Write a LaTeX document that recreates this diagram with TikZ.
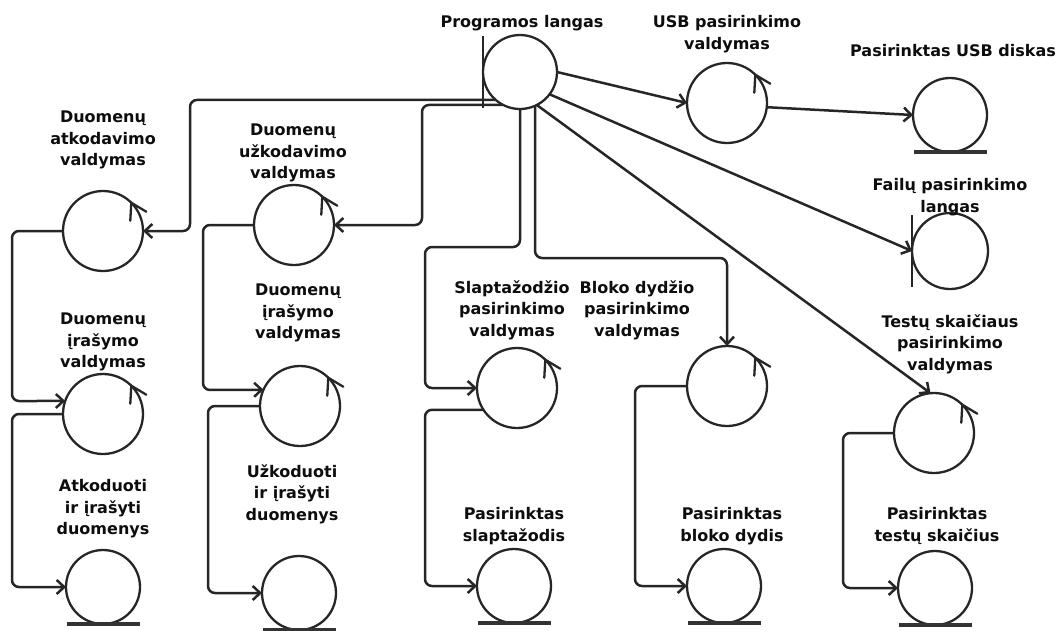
\documentclass[tikz,border=0pt]{standalone}
\usepackage{fontspec}
\setmainfont{DejaVu Sans}
\usetikzlibrary{arrows.meta}
\begin{document}
\begin{tikzpicture}[x=1pt,y=-1pt,
  ln/.style={draw=black!85, line width=2.3pt},
  ctrl/.style={circle, ln, minimum size=80pt, inner sep=0pt, outer sep=0pt},
  ent/.style={circle, ln, minimum size=74pt, inner sep=0pt, outer sep=0pt},
  bnd/.style={circle, ln, minimum size=74pt, inner sep=0pt, outer sep=0pt},
  conn/.style={draw=black!85, line width=2.5pt, rounded corners=7pt,
    -{Straight Barb[length=7.5pt,width=14pt]}},
  lbl/.style={font=\fontsize{16}{21.5}\selectfont\bfseries, align=center,
    text=black!95, inner sep=0pt},
  barline/.style={draw=black!80, line width=3.2pt},
  tipline/.style={ln, line cap=round, line join=miter}
]
\useasboundingbox (0,0) rectangle (1059,630);

% ---- objects ----
\node[bnd]  (prog)  at (520,72)  {};
\node[ctrl] (usbc)  at (727,103) {};
\node[ent]  (usbe)  at (950,115) {};
\node[bnd, minimum size=76pt] (fail) at (950,251) {};
\node[ctrl] (atk)   at (103,231) {};
\node[ctrl] (irsa)  at (103,414) {};
\node[ent]  (atke)  at (103,587) {};
\node[ctrl] (uzk)   at (294,225) {};
\node[ctrl] (irsb)  at (300,406) {};
\node[ent]  (uzke)  at (299,593) {};
\node[ctrl] (slap)  at (517,388) {};
\node[ent]  (slape) at (514,586) {};
\node[ctrl] (blok)  at (727,386) {};
\node[ent]  (bloke) at (724,586) {};
\node[ctrl] (test)  at (934,433) {};
\node[ent]  (teste) at (935,588) {};

% boundary bars
\foreach \n in {prog,fail}
  \draw[ln] ([yshift=36pt]\n.west) -- ([yshift=-36pt]\n.west);
% entity bars
\foreach \n in {usbe,atke,uzke,slape,bloke,teste}
  \draw[barline] ([xshift=-36pt]\n.south) -- ([xshift=37pt]\n.south);
% control arrow marks
\foreach \n in {usbc,atk,irsa,uzk,irsb,slap,blok,test}
  \draw[tipline] ([shift={(-1,18)}]\n.45) -- (\n.45) -- ([shift={(15,9)}]\n.45);

% ---- labels ----
\node[lbl] (lprog)  at (522,23)  {Programos langas};
\node[lbl] (lusbc)  at (727,34)  {USB pasirinkimo\\valdymas};
\node[lbl] (lusbe)  at (953,51)  {Pasirinktas USB diskas};
\node[lbl] (lfail)  at (950,197) {Failų pasirinkimo\\langas};
\node[lbl] (latk)   at (103,140) {Duomenų\\atkodavimo\\valdymas};
\node[lbl] (lirsa)  at (103,342) {Duomenų\\įrašymo\\valdymas};
\node[lbl] (latke)  at (103,509) {Atkoduoti\\ir įrašyti\\duomenys};
\node[lbl] (luzk)   at (293,153) {Duomenų\\užkodavimo\\valdymas};
\node[lbl] (lirsb)  at (298,313) {Duomenų\\įrašymo\\valdymas};
\node[lbl] (luzke)  at (292,494) {Užkoduoti\\ir įrašyti\\duomenys};
\node[lbl] (lslap)  at (512,310) {Slaptažodžio\\pasirinkimo\\valdymas};
\node[lbl] (lslape) at (514,526) {Pasirinktas\\slaptažodis};
\node[lbl] (lblok)  at (637,310) {Bloko dydžio\\pasirinkimo\\valdymas};
\node[lbl] (lbloke) at (732,526) {Pasirinktas\\bloko dydis};
\node[lbl] (ltest)  at (950,344) {Testų skaičiaus\\pasirinkimo\\valdymas};
\node[lbl] (lteste) at (937,526) {Pasirinktas\\testų skaičius};

% ---- connectors ----
\draw[conn] (prog.0) -- (usbc.west);
\draw[conn] (usbc.-6) -- (usbe.west);
\draw[conn] (prog.-37) -- (fail.west);
\draw[conn] (prog.-63) -- (test.95);
\draw[conn] (prog.-66) |- (blok.north |- 0,258) -- (blok.north);
\draw[conn] (prog.south) |- (425,247) |- (slap.west);
\draw[conn] (prog.243) -| (422,225) -- (uzk.east);
\draw[conn] (prog.229) -| (190,231) -- (atk.east);

\draw[conn] (atk.west) -| (12,401) -- (irsa.161);
\draw[conn] (irsa.west) -| (12,587) -- (atke.west);
\draw[conn] (uzk.west) -| (203,390) -- (irsb.156);
\draw[conn] (irsb.west) -| (208,593) -- (uzke.west);
\draw[conn] (slap.213) -| (425,586) -- (slape.west);
\draw[conn] (blok.west) -| (635,586) -- (bloke.west);
\draw[conn] (test.west) -| (843,588) -- (teste.west);
\end{tikzpicture}
\end{document}
